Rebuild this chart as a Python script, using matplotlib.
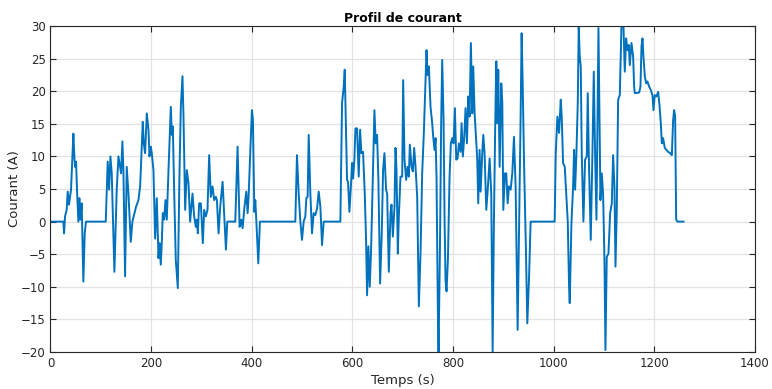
import numpy as np
import matplotlib
matplotlib.use('Agg')
import matplotlib.pyplot as plt

# current profile samples (time in s, current in A)
t_s = [0, 25.6, 27, 28.9, 32.2, 34.2, 36.8, 38.8, 40.8, 43.5, 45.5, 47.4, 48.8, 50.8,
       52.7, 55.4, 57.4, 59.4, 62, 64, 65.3, 68, 70.6, 109.8, 113.7, 116.4, 119.1,
       121.7, 127, 131.6, 135, 138.3, 140.3, 142.9, 144.9, 148.2, 151.5, 154.9,
       159.5, 162.8, 166.8, 170.1, 174.8, 178.1, 181.4, 183.4, 185.4, 188, 191.4,
       194.7, 196.7, 199.3, 201.3, 204.6, 207.9, 211.2, 214.6, 216.5, 219.2, 221.2,
       223.2, 225.8, 228.5, 231.1, 234.5, 239.1, 241.1, 243.1, 245.7, 249, 253,
       256.3, 259, 262.3, 264.3, 267.6, 270.9, 274.2, 277.5, 282.2, 285.5, 288.8,
       290.8, 292.8, 295.4, 298.8, 302.7, 305.4, 308.7, 312, 315.3, 318.6, 322,
       325.3, 328.6, 330.7, 334, 337.3, 342, 345.3, 348.6, 351.3, 367.2, 371.8,
       375.8, 379.1, 381.8, 385.1, 389.1, 391.7, 393.7, 396.4, 400.3, 402.3, 405,
       407, 409.6, 412.9, 416.2, 486.5, 489.8, 493.2, 496.5, 499.8, 503.1, 506.4,
       508.4, 511, 513.1, 516.4, 519.7, 523, 526.3, 529.7, 533, 536.3, 539.6,
       542.9, 576, 579.4, 582.7, 584.7, 587.3, 589.3, 591.3, 594, 597.3, 599.3,
       601.3, 603.9, 605.9, 609.2, 612.5, 615.2, 617.8, 621.1, 624.5, 627.1, 629.1,
       631.7, 634.4, 637.1, 640.4, 643.7, 646.3, 649, 651.6, 655, 658.3, 660.9,
       663.6, 666.9, 669, 672.3, 675.6, 677.6, 680.3, 683.6, 685.6, 687.6, 690.2,
       692.2, 695.5, 698.9, 700.8, 703.5, 706.8, 709.5, 712.1, 714.1, 717.4, 720.1,
       722.7, 725.4, 728.7, 732, 735.3, 738.6, 741.9, 745.3, 747.2, 749.2, 751.9,
       755.2, 758.5, 760.5, 763.2, 765.2, 767.1, 769.8, 771.1, 773.8, 776.4, 778.4,
       781.1, 783.1, 785, 787, 789.7, 793, 795.6, 798.3, 800.9, 803.6, 806.3, 808.9,
       811.6, 814.9, 816.9, 819.5, 822.2, 824.8, 827.5, 830.1, 832.8, 835.4, 838.1,
       840.1, 842.8, 846.1, 848.1, 850, 852.7, 854.7, 858, 860, 862.6, 866, 869.3,
       872.6, 875.9, 878.6, 881.2, 883.9, 885.9, 887.8, 889.8, 892.5, 895.8, 897.8,
       899.8, 903.1, 905.7, 908.4, 911, 914.4, 917.7, 921, 924.3, 928.3, 931.6,
       934.3, 936.2, 938.2, 940.9, 944.9, 947.5, 950.8, 954.1, 1001.9, 1004, 1007.3,
       1010.6, 1014, 1015.9, 1018.6, 1021.9, 1025.2, 1027.9, 1030.5, 1031.8, 1035.2,
       1038.5, 1040.5, 1042.5, 1045.1, 1047.8, 1049.7, 1051.7, 1053.7, 1055.7, 1059,
       1062.3, 1065.7, 1067.6, 1070.3, 1073.6, 1076.9, 1079.6, 1082.2, 1084.9,
       1086.9, 1088.9, 1090.9, 1092.8, 1095.5, 1098.1, 1100.8, 1102.8, 1105.4,
       1108.8, 1112.1, 1115.4, 1118, 1120.7, 1122.7, 1125.3, 1128, 1131.3, 1133.3,
       1134.6, 1138.6, 1141.2, 1143.9, 1146.5, 1149.2, 1151.2, 1154.5, 1157.8,
       1159.8, 1161.1, 1169.8, 1172.4, 1174.4, 1176.4, 1178.3, 1181, 1183.6, 1186.3,
       1189.6, 1192.9, 1196.2, 1198.2, 1200.8, 1204.2, 1207.5, 1210.1, 1212.8,
       1214.8, 1217.4, 1220.7, 1224, 1227.4, 1231.3, 1234.7, 1237.3, 1239.3, 1241.3,
       1243.3, 1245.9, 1257.9]

i_a = [0, 0, -1.8, 0.8, 1.8, 4.6, 2.6, 3.8, 4.9, 10, 13.5, 10, 8.4, 9.2,
       4.9, 0, 3.6, 0.3, 2.8, -4.9, -9.2, -1.8, 0, 0, 9.2, 4.9, 10,
       7.4, -7.7, 4.9, 10, 8.4, 7.4, 12.3, 7.9, -8.4, 8.4, 4.3,
       -3.1, 0, 1.3, 2.3, 3.3, 5.4, 11.5, 15.3, 12, 10.5, 16.6,
       14.1, 10, 11.5, 10.5, 7.9, -2.6, 3.6, -5.6, -3.3, -6.6, -3.1,
       1.3, 0.3, 3.3, 0.3, 7.9, 17.6, 13.3, 14.6, 4.9, -5.9, -10.2,
       7.4, 17.6, 22.3, 16.1, 1.8, 7.9, 5.9, 0, 4.3, 0.8, -0.8,
       0.3, -1.8, 2.8, 2.8, -3.3, 1.8, 0.8, 1.8, 10.2, 3.8, 5.4,
       3.3, 3.8, 3.3, -1.8, 2.3, 6.1, 0.8, -4.3, 0, 0, 11.5,
       -0.8, 0.3, -1, 2, 4.6, 1.3, 3.8, 9.5, 17.1, 15.6, 1.5,
       3.3, -0.8, -6.4, 0, 0, 10.2, 4.3, 0, -2.8, 0, 0.8,
       3.6, 3.8, 13.3, 4.3, -1.8, 1.3, 1, 2, 4.6, 2.3, -3.6,
       0, 0, 18.2, 20.7, 23.3, 14.1, 6.4, 6.1, 1.5, 5.9, 9,
       6.6, 9.5, 14.3, 14.3, 6.9, 14.1, 10.5, 10.7, 4.3, -2.8, -11.3,
       -3.8, -10, -4.3, 6.4, 17.1, 12, 13.3, 6.4, -9.5, -1.8, 7.9,
       10.5, 4.9, 4.3, -7.7, 1.3, 2.6, -2.3, 2.3, 11.3, 7.9, -4.9,
       0.8, 6.9, 6.9, 21.7, 9.5, 6.4, 8.4, 6.9, 11.8, 8.4, 7.7,
       11.3, 8.4, 3.8, -13, -4.9, 7.4, 13.6, 21.7, 26.3, 22.5, 23.8,
       17.6, 15.1, 13, 11, 12.8, 6.9, -14.1, -20, -4.9, 15.6, 24.8,
       15.6, 0.3, -9, -10.7, -5.9, 6.9, 12, 12.8, 12, 17.4, 9.5, 9.7,
       12, 10.7, 15.1, 10, 13, 17.4, 12, 19.2, 16.1, 27.4, 16.6,
       23.8, 16.6, 12, 9.5, 2.8, 11, 4.6, 10.5, 13.3, 10.5, 1.8, 5.4,
       9.7, 4.3, -20, 0.3, 15.6, 24.6, 15.1, 23.3, 8.4, 21.2, 18.2,
       1.8, 7.4, 7.4, 2.8, 5.4, 4.9, 7.4, 13, 5.4, -16.6, 1.3,
       16.6, 28.9, 21.7, 9.5, -4.9, -15.6, -9, 0, 0, 10.5, 16.1,
       13.6, 18.7, 16.1, 9, 8.4, 3.8, 0, -10, -12.5, -0.3,
       5.4, 11, 4.9, 10.5, 18.2, 29.9, 25.3, 23.8, 10.5, 0,
       9.5, 10, 19.7, 7.9, -2.8, 10.5, 23, 10.5, 0.3,
       15.6, 29.7, 15.6, 3.3, 7.4, 4.3, -5.9, -19.7, -5.4,
       -4.9, 1.3, 2.8, 10.2, 5.4, -6.9, 1.8, 18.7, 19.4, 25.8,
       30, 30, 23, 28.1, 26.3, 27.1, 24, 27.4, 25.3,
       20.7, 19.7, 19.8, 20.7, 26.9, 28.1, 25.3, 22.3, 21.2, 21.5,
       20.7, 20.2, 19.4, 17.1, 19.4, 19.2, 19.9, 17.9, 15.1,
       12, 12.8, 11.3, 11, 10.7, 10.5, 10.2, 15.6, 17.1, 16.1,
       0.3, 0, 0]

x_ticks = [0, 200, 400, 600, 800, 1000, 1200, 1400]
y_ticks = [-20, -15, -10, -5, 0, 5, 10, 15, 20, 25, 30]

plt.rcParams['font.family'] = ['DejaVu Sans']

fig = plt.figure(figsize=(7.72, 3.89), dpi=100)
ax = fig.add_axes([0.0654, 0.0951, 0.9126, 0.838])

ax.plot(t_s, i_a, color='#0072BD', linewidth=1.4)

ax.set_xlim(0, 1400)
ax.set_ylim(-20, 30)
ax.set_xticks(x_ticks)
ax.set_yticks(y_ticks)
ax.grid(True, color='#e3e3e3', linewidth=0.9)
ax.set_axisbelow(True)

for sp in ax.spines.values():
    sp.set_color('#262626')
    sp.set_linewidth(0.8)
ax.tick_params(direction='in', top=True, right=True, length=4, width=0.8,
               colors='#262626', labelsize=8.5, labelcolor='#262626')

ax.set_title('Profil de courant', fontsize=9, fontweight='bold', pad=3)
ax.set_xlabel('Temps (s)', fontsize=9.5, labelpad=3, color='#262626')
ax.set_ylabel('Courant (A)', fontsize=9.5, labelpad=0, color='#262626')

fig.savefig('out.png', dpi=100)
